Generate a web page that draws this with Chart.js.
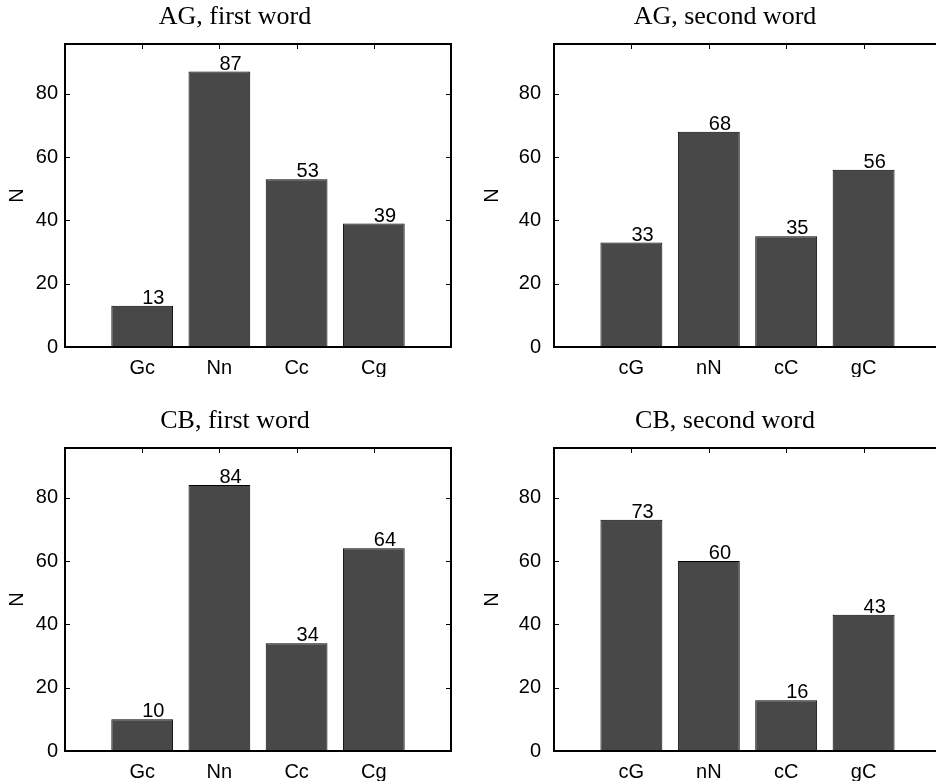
<!DOCTYPE html>
<html>
<head>
<meta charset="utf-8">
<script src="https://cdn.jsdelivr.net/npm/chart.js@4.4.1/dist/chart.umd.min.js"></script>
<style>
html, body { margin: 0; padding: 0; background: #ffffff; overflow: hidden; width: 936px; height: 783px; }
canvas { position: absolute; }
</style>
</head>
<body>
<canvas id="c1" width="470" height="378" style="left:0px;top:0px"></canvas>
<canvas id="c2" width="518" height="378" style="left:466px;top:0px"></canvas>
<canvas id="c3" width="470" height="378" style="left:0px;top:404px"></canvas>
<canvas id="c4" width="518" height="378" style="left:466px;top:404px"></canvas>
<script>
// ---- data ----
const firstWordCats  = ['Gc', 'Nn', 'Cc', 'Cg'];
const secondWordCats = ['cG', 'nN', 'cC', 'gC'];
const agFirst  = [13, 87, 53, 39];
const agSecond = [33, 68, 35, 56];
const cbFirst  = [10, 84, 34, 64];
const cbSecond = [73, 60, 16, 43];
const yTicks = [0, 20, 40, 60, 80];
const yMax = 95.7;
const xMin = 0, xMax = 5;
const titles = ['AG, first word', 'AG, second word', 'CB, first word', 'CB, second word'];
const yLabel = 'N';

Chart.defaults.color = '#000';
Chart.defaults.animation = false;

const SANS = "'Liberation Sans', Arial, Helvetica, sans-serif";
const SERIF = "'Liberation Serif', 'Times New Roman', Times, serif";

const matlabAxes = {
  id: 'matlabAxes',
  beforeDatasetsDraw(chart) {
    const { ctx, chartArea: a, scales: { x, y } } = chart;
    ctx.save();
    ctx.strokeStyle = '#000';
    ctx.lineWidth = 1;
    ctx.beginPath();
    y.ticks.forEach(t => {
      const py = Math.round(y.getPixelForValue(t.value)) + 0.5;
      ctx.moveTo(a.left, py); ctx.lineTo(a.left + 5, py);
      ctx.moveTo(a.right, py); ctx.lineTo(a.right - 5, py);
    });
    x.ticks.forEach(t => {
      const px = Math.round(x.getPixelForValue(t.value)) + 0.5;
      ctx.moveTo(px, a.top); ctx.lineTo(px, a.top + 5);
      ctx.moveTo(px, a.bottom); ctx.lineTo(px, a.bottom - 5);
    });
    ctx.stroke();
    ctx.restore();
  },
  afterDatasetsDraw(chart) {
    const { ctx, chartArea: a } = chart;
    ctx.save();
    ctx.strokeStyle = '#000';
    ctx.lineWidth = 2;
    ctx.strokeRect(a.left, a.top, a.right - a.left, a.bottom - a.top);
    // value labels on bars
    ctx.fillStyle = '#000';
    ctx.font = '20px ' + SANS;
    ctx.textAlign = 'left';
    ctx.textBaseline = 'alphabetic';
    const ds = chart.data.datasets[0];
    chart.getDatasetMeta(0).data.forEach((bar, i) => {
      ctx.fillText(String(ds.data[i].y), bar.x, bar.y - 2);
    });
    ctx.restore();
  }
};

function makeChart(id, title, cats, values, leftWidth, rightWidth, yTitlePad, yTickPad) {
  return new Chart(document.getElementById(id), {
    type: 'bar',
    data: {
      datasets: [{
        data: cats.map((c, i) => ({ x: i + 1, y: values[i] })),
        backgroundColor: '#484848',
        borderColor: '#000',
        borderWidth: 1,
        categoryPercentage: 0.8,
        barPercentage: 1.0
      }]
    },
    options: {
      responsive: false,
      devicePixelRatio: 1,
      layout: { padding: { left: 0, right: 0, top: 0, bottom: 1 } },
      plugins: {
        legend: { display: false },
        tooltip: { enabled: false },
        title: {
          display: true,
          text: title,
          color: '#000',
          font: { family: SERIF, size: 26, weight: 'normal' },
          padding: { top: 2, bottom: 10.8 }
        }
      },
      scales: {
        x: {
          type: 'linear',
          min: xMin, max: xMax,
          offset: false,
          grid: { display: false, drawTicks: false, offset: false },
          border: { display: false },
          afterBuildTicks: s => { s.ticks = cats.map((c, i) => ({ value: i + 1 })); },
          ticks: {
            padding: 9,
            font: { family: SANS, size: 20 },
            color: '#000',
            maxRotation: 0,
            autoSkip: false,
            callback: v => cats[v - 1] ?? ''
          },
          afterFit: s => { s.height = 30; }
        },
        y: {
          type: 'linear',
          position: 'left',
          min: 0, max: yMax,
          grid: { display: false, drawTicks: false },
          border: { display: false },
          afterBuildTicks: s => { s.ticks = yTicks.map(v => ({ value: v })); },
          ticks: {
            padding: yTickPad,
            font: { family: SANS, size: 20 },
            color: '#000',
            callback: v => String(v)
          },
          title: {
            display: true,
            text: yLabel,
            color: '#000',
            font: { family: SANS, size: 20 },
            padding: { top: yTitlePad, bottom: 0 }
          },
          afterFit: s => { s.width = leftWidth; }
        },
        yRight: {
          type: 'linear',
          position: 'right',
          min: 0, max: 1,
          display: true,
          grid: { display: false, drawTicks: false },
          border: { display: false },
          ticks: { display: false },
          afterFit: s => { s.width = rightWidth; }
        }
      }
    },
    plugins: [matlabAxes]
  });
}

makeChart('c1', titles[0], firstWordCats,  agFirst,  65, 19, 5, 7);
makeChart('c2', titles[1], secondWordCats, agSecond, 88, 43, 14.5, 13);
makeChart('c3', titles[2], firstWordCats,  cbFirst,  65, 19, 5, 7);
makeChart('c4', titles[3], secondWordCats, cbSecond, 88, 43, 14.5, 13);
</script>
</body>
</html>
